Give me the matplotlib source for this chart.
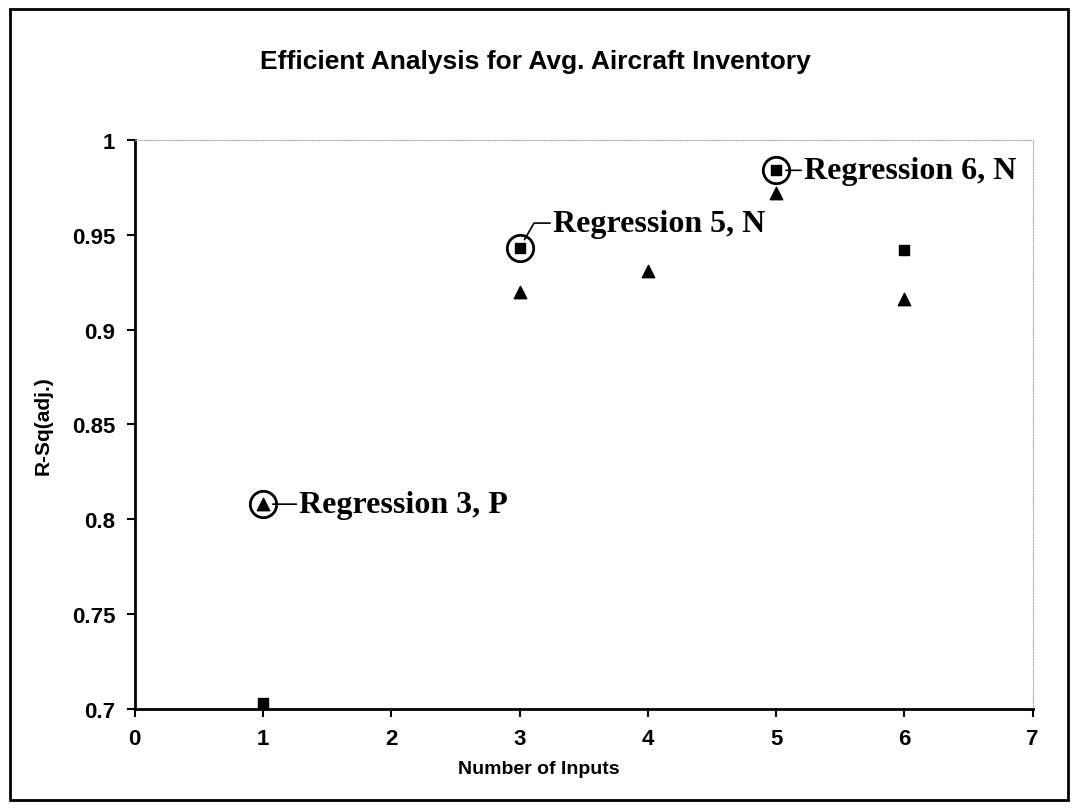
import numpy as np
import matplotlib.pyplot as plt

# R-Sq(adj.) values
inputs_n = [1, 3, 5, 6]
rsq_n = [0.703, 0.943, 0.984, 0.942]      # squares
inputs_p = [1, 3, 4, 5, 6]
rsq_p = [0.808, 0.920, 0.931, 0.972, 0.916]  # triangles

labels = ['Regression 3, P', 'Regression 5, N', 'Regression 6, N']
label_x = [1, 3, 5]
label_y = [0.808, 0.943, 0.984]

fig = plt.figure(figsize=(10.78, 8.12), dpi=100)
ax = fig.add_axes([0.125, 0.1256, 0.833, 0.7008])

# outer chart frame
fig.patches.append(plt.Rectangle((0.009, 0.014), 0.982, 0.974, transform=fig.transFigure,
                                 fill=False, edgecolor='black', linewidth=2))

ax.scatter(inputs_n, rsq_n, marker='s', s=60, color='black', zorder=3)
ax.scatter(inputs_p, rsq_p, marker='^', s=80, color='black', zorder=3)

# circles round the highlighted points
ax.plot(label_x, label_y, 'o', markersize=19, markerfacecolor='none',
        markeredgecolor='black', markeredgewidth=2, linestyle='none', zorder=4)

txt_font = dict(family='Liberation Serif', fontweight='bold', fontsize=23)
ax.annotate(labels[0], xy=(label_x[0], label_y[0]), xytext=(26, 0), textcoords='offset points',
            va='center', ha='left', arrowprops=dict(arrowstyle='-', color='black', lw=1.2,
                                                    shrinkA=0, shrinkB=7), **txt_font)
ax.annotate(labels[1], xy=(label_x[1], label_y[1]), xytext=(24, 18), textcoords='offset points',
            va='center', ha='left', arrowprops=dict(arrowstyle='-', color='black', lw=1.2,
                                                    connectionstyle='angle,angleA=0,angleB=60',
                                                    shrinkA=0, shrinkB=7), **txt_font)
ax.annotate(labels[2], xy=(label_x[2], label_y[2]), xytext=(20, 0), textcoords='offset points',
            va='center', ha='left', arrowprops=dict(arrowstyle='-', color='black', lw=1.2,
                                                    shrinkA=0, shrinkB=7), **txt_font)

ax.set_xlim(0, 7)
ax.set_ylim(0.7, 1)
ax.set_xticks(np.arange(0, 8, 1))
ax.set_yticks([0.7, 0.75, 0.8, 0.85, 0.9, 0.95, 1])
ax.set_yticklabels(['0.7', '0.75', '0.8', '0.85', '0.9', '0.95', '1'])

for side in ['top', 'right']:
    ax.spines[side].set_color('#aaaaaa')
    ax.spines[side].set_linestyle(':')
for side in ['left', 'bottom']:
    ax.spines[side].set_linewidth(2)

ax.tick_params(axis='both', direction='out', length=6, width=1.5, labelsize=16, pad=8)
for lab in ax.get_xticklabels() + ax.get_yticklabels():
    lab.set_fontweight('bold')
    lab.set_family('Liberation Sans')

# title and x label are centred on the whole chart, not on the plot area
fig.text(0.497, 0.924, 'Efficient Analysis for Avg. Aircraft Inventory', fontsize=19,
         fontweight='bold', family='Liberation Sans', ha='center', va='center')
fig.text(0.500, 0.052, 'Number of Inputs', fontsize=14, fontweight='bold',
         family='Liberation Sans', ha='center', va='center')
ax.set_ylabel('R-Sq(adj.)', fontsize=15, fontweight='bold', family='Liberation Sans', labelpad=14)

plt.savefig('out.png', dpi=100)
